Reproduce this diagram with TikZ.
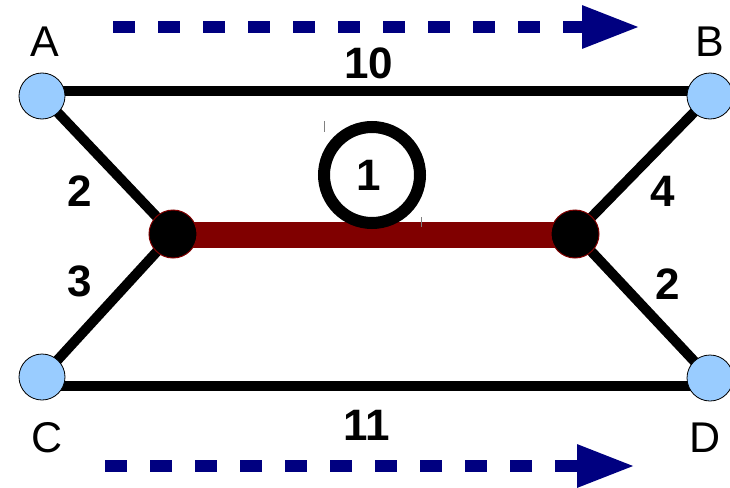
\documentclass[tikz,border=0pt]{standalone}
\usepackage{fontspec}
\setmainfont{Liberation Sans}
\usetikzlibrary{arrows.meta}
\definecolor{nodeblue}{HTML}{99CCFF}
\definecolor{navyblue}{HTML}{000080}
\definecolor{darkred}{HTML}{800000}
\begin{document}
\begin{tikzpicture}[x=1pt,y=-1pt,
  vtx/.style={circle,draw=black,line width=0.8pt,fill=nodeblue,minimum size=46pt,inner sep=0pt},
  hub/.style={circle,draw=darkred,line width=1pt,fill=black,minimum size=48pt,inner sep=0pt},
  edge/.style={line width=10pt},
  wt/.style={inner sep=0pt,font=\fontsize{44}{44}\selectfont\bfseries},
  lbl/.style={inner sep=0pt,font=\fontsize{43}{43}\selectfont},
  flow/.style={draw=navyblue,line width=12pt,dash pattern=on 22pt off 23pt,
    -{Triangle[length=58pt,width=40pt]}},
  tick/.style={draw=gray,line width=1pt}]
\useasboundingbox (0,0) rectangle (730,487);

% vertices (coordinates first for edges)
\coordinate (Ac) at (42,96);
\coordinate (Bc) at (710,96);
\coordinate (Cc) at (42,377);
\coordinate (Dc) at (710,378);
\coordinate (Lc) at (173,234);
\coordinate (Rc) at (575,234);

% edges
\draw[edge] ([yshift=5pt]Ac) -- ([yshift=5pt]Bc);
\draw[edge] ([yshift=-9pt]Cc) -- ([yshift=-8pt]Dc);
\draw[edge] (Ac) -- (Lc);
\draw[edge] (Cc) -- (Lc);
\draw[edge] (Bc) -- (Rc);
\draw[edge] (Dc) -- (Rc);
\draw[draw=darkred,line width=26pt] ([yshift=-1pt]Lc) -- ([yshift=-1pt]Rc);

% nodes
\node[vtx] (A) at (Ac) {};
\node[vtx] (B) at (Bc) {};
\node[vtx] (C) at (Cc) {};
\node[vtx] (D) at (Dc) {};
\node[hub] (L) at (Lc) {};
\node[hub] (R) at (Rc) {};

% vertex labels
\node[lbl] (la) at (45,42) {A};
\node[lbl] (lb) at (710,42) {B};
\node[lbl] (lc) at (47,438) {C};
\node[lbl] (ld) at (705,438) {D};

% weights
\node[wt] (w10) at (369,63) {10};
\node[wt] (w11) at (367,425) {11};
\node[wt] (w2a) at (80,191) {2};
\node[wt] (w3) at (80,281) {3};
\node[wt] (w4) at (663,191) {4};
\node[wt] (w2b) at (668,284) {2};

% circled 1
\draw[line width=12pt] (372,175) circle[radius=48pt];
\node[wt] (one) at (369,175) {1};
\draw[tick] (324,121) -- (324,132);
\draw[tick] (421,217) -- (421,227);

% flow arrows
\coordinate (t1) at (113,27);
\coordinate (t2) at (640,27);
\coordinate (b1) at (105,466);
\coordinate (b2) at (635,466);
\draw[flow] (t1) -- (t2);
\draw[flow] (b1) -- (b2);
\end{tikzpicture}
\end{document}
